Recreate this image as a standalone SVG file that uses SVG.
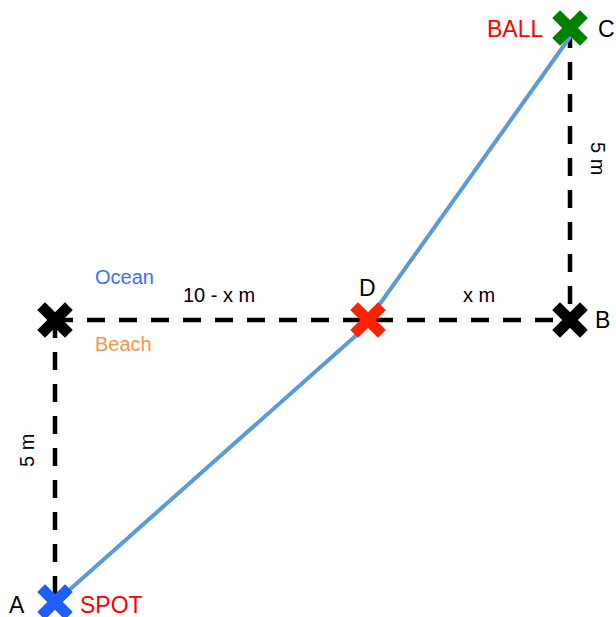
<svg xmlns="http://www.w3.org/2000/svg" width="616" height="617" viewBox="0 0 616 617">
<style>
text{font-family:"Liberation Sans",Arial,sans-serif}
.dash{stroke:#000;stroke-width:4.5;stroke-dasharray:18 14;fill:none}
.x{stroke-width:11;stroke-linecap:square;fill:none}
.lbl{font-size:23px;fill:#000}
.m{font-size:20px;fill:#000}
</style>
<rect width="616" height="617" fill="#fff"/>
<g id="connectors">
<line class="dash" x1="55" y1="320" x2="570" y2="320"/>
<line class="dash" x1="570" y1="30" x2="570" y2="320"/>
<line class="dash" x1="55" y1="320" x2="55" y2="602"/>
<path d="M58,600 L360,332 Q370,322 377,308 L575,30" stroke="#5B9BD5" stroke-width="4" fill="none" stroke-linejoin="round"/>
</g>
<g id="nodeC"><path class="x" stroke="#008000" d="M560,18 L580,38 M580,18 L560,38"/>
<text x="487" y="37" style="font-size:23px;fill:#FF0000">BALL</text>
<text class="lbl" x="598" y="37">C</text></g>
<g id="nodeB"><path class="x" stroke="#000" d="M560,310 L580,330 M580,310 L560,330"/>
<text class="lbl" x="595" y="328">B</text></g>
<g id="nodeD"><path class="x" stroke="#FF2200" d="M358,310 L378,330 M378,310 L358,330"/>
<text class="lbl" x="359" y="296">D</text></g>
<g id="nodeE"><path class="x" stroke="#000" d="M45,310 L65,330 M65,310 L45,330"/></g>
<g id="nodeA"><path class="x" stroke="#1F5FFF" d="M45,592 L65,612 M65,592 L45,612"/>
<text class="lbl" x="9" y="613">A</text>
<text x="80" y="613" style="font-size:23px;fill:#FF0000">SPOT</text></g>
<g id="labels">
<text x="95" y="284" style="font-size:20px;fill:#3C6EFF">Ocean</text>
<text x="95" y="351" style="font-size:20px;fill:#F79646">Beach</text>
<text class="m" x="183" y="302">10 - x m</text>
<text class="m" x="463" y="302">x m</text>
<text class="m" transform="translate(591,142) rotate(90)">5 m</text>
<text class="m" transform="translate(34,467) rotate(-90)">5 m</text>
</g>
</svg>
